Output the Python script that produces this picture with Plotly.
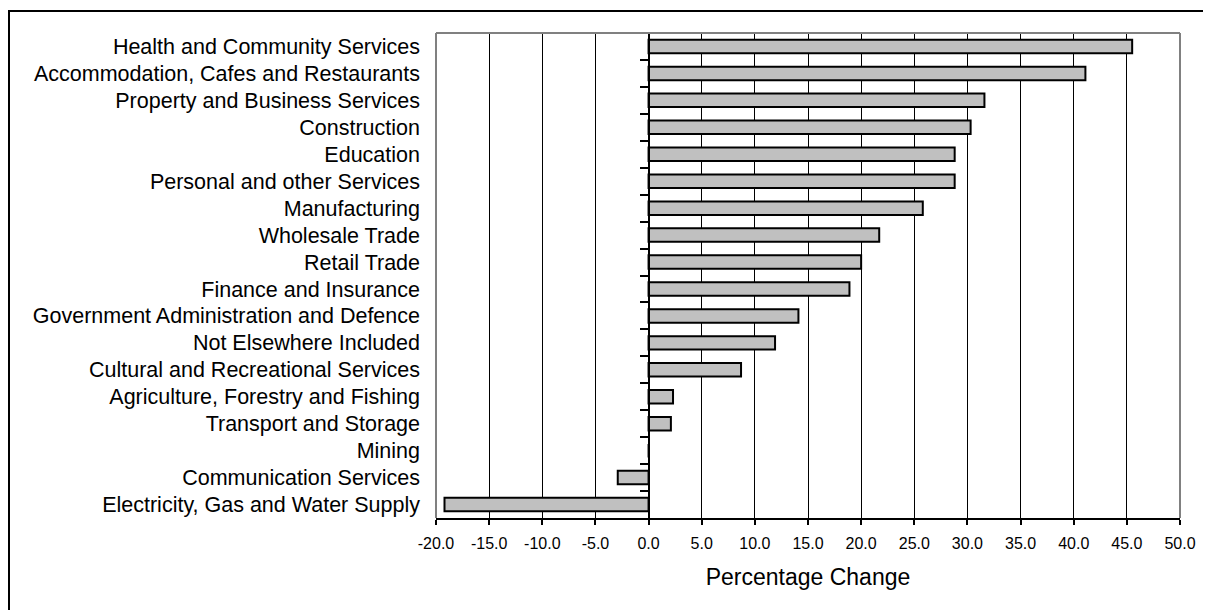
import plotly.graph_objects as go

categories = [
    "Health and Community Services",
    "Accommodation, Cafes and Restaurants",
    "Property and Business Services",
    "Construction",
    "Education",
    "Personal and other Services",
    "Manufacturing",
    "Wholesale Trade",
    "Retail Trade",
    "Finance and Insurance",
    "Government Administration and Defence",
    "Not Elsewhere Included",
    "Cultural and Recreational Services",
    "Agriculture, Forestry and Fishing",
    "Transport and Storage",
    "Mining",
    "Communication Services",
    "Electricity, Gas and Water Supply",
]
values = [45.5, 41.1, 31.6, 30.3, 28.8, 28.8, 25.8, 21.7, 20.0, 18.9,
          14.1, 11.9, 8.7, 2.3, 2.1, 0.0, -2.9, -19.2]
x_ticks = [-20, -15, -10, -5, 0, 5, 10, 15, 20, 25, 30, 35, 40, 45, 50]
x_tick_labels = [f"{v:.1f}" for v in x_ticks]

# page body has an 8px margin; figure sized so plot area lands where the reference has it
W, H = 1203, 602
L, R, T, B = 428, 31, 25, 92
xmin, xmax = -20, 50
PW, PH = W - L - R, H - T - B
n = len(categories)

fig = go.Figure()
fig.add_trace(go.Bar(
    x=values, y=categories, orientation="h",
    marker=dict(color="#C0C0C0", line=dict(color="black", width=2)),
    hoverinfo="x+y",
))
fig.add_trace(go.Scatter(
    x=values, y=categories, yaxis="y2", mode="markers",
    marker=dict(opacity=0), hoverinfo="skip", showlegend=False,
))

font = "Liberation Sans, Arial, sans-serif"
fig.update_layout(
    width=W, height=H,
    margin=dict(l=L, r=R, t=T, b=B),
    paper_bgcolor="white", plot_bgcolor="white",
    showlegend=False, bargap=0.5,
    font=dict(family=font, color="black"),
    xaxis=dict(
        range=[xmin, xmax], tickvals=x_ticks, ticktext=x_tick_labels,
        showgrid=True, gridcolor="black", gridwidth=1,
        zeroline=False,
        showline=True, linecolor="black", linewidth=2,
        ticks="outside", ticklen=5, tickcolor="black", tickwidth=2,
        tickfont=dict(size=16), ticklabelstandoff=5,
        title=dict(text="Percentage Change", font=dict(size=23), standoff=18),
        fixedrange=True,
    ),
    yaxis=dict(
        categoryorder="array", categoryarray=categories,
        range=[n - 0.5, -0.5],
        tickmode="linear", tick0=0, dtick=1,
        showgrid=False, zeroline=False, showline=False, ticks="",
        tickfont=dict(size=21.5), ticklabelstandoff=15,
        fixedrange=True,
    ),
    yaxis2=dict(
        overlaying="y", matches="y", anchor="free",
        position=(0 - xmin) / (xmax - xmin),
        categoryorder="array", categoryarray=categories,
        tickmode="linear", tick0=0, dtick=1,
        showticklabels=False, showgrid=False, zeroline=False,
        showline=True, linecolor="black", linewidth=2,
        ticks="outside", tickson="boundaries", ticklen=8,
        tickcolor="black", tickwidth=2,
        fixedrange=True,
    ),
    shapes=[
        # grey plot border (left, top, right)
        dict(type="line", xref="paper", yref="paper", x0=0, x1=0, y0=0, y1=1,
             line=dict(color="#808080", width=2), layer="above"),
        dict(type="line", xref="paper", yref="paper", x0=0, x1=1, y0=1, y1=1,
             line=dict(color="#808080", width=2), layer="above"),
        dict(type="line", xref="paper", yref="paper", x0=1, x1=1, y0=0, y1=1,
             line=dict(color="#808080", width=2), layer="above"),
        # outer chart frame
        dict(type="rect", xref="paper", yref="paper",
             x0=(1 - L) / PW, x1=(W + 20 - L) / PW,
             y0=-(B + 20) / PH, y1=1 + (T - 3) / PH,
             line=dict(color="black", width=2), fillcolor="rgba(0,0,0,0)",
             layer="above"),
    ],
)

fig.write_html("out.html")
